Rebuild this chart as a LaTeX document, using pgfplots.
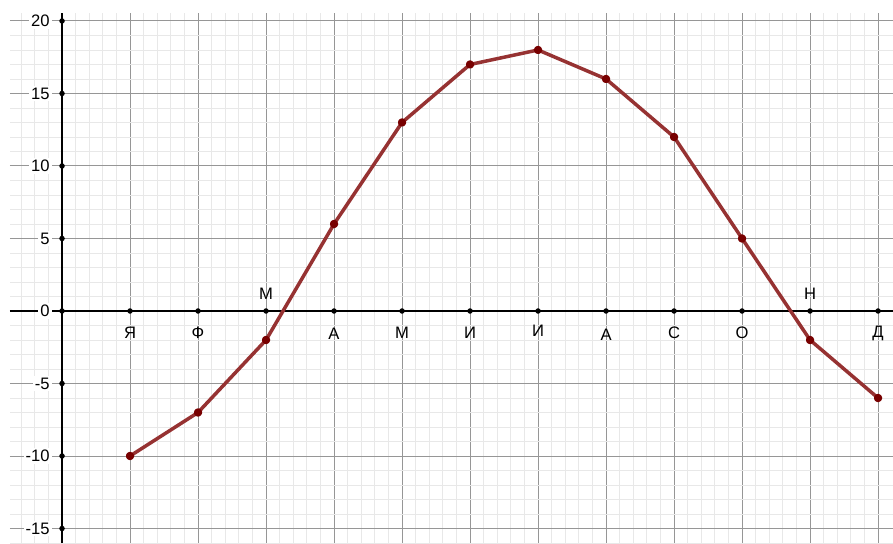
\documentclass[border=0pt]{standalone}
\usepackage{fontspec}
\setmainfont{Liberation Sans}
\usepackage{pgfplots}
\pgfplotsset{compat=1.18}
\definecolor{gridmajor}{RGB}{150,150,150}
\definecolor{gridminor}{RGB}{232,232,232}
\definecolor{curve}{RGB}{150,50,50}
\definecolor{curvedot}{RGB}{120,0,0}

\begin{document}
\begin{tikzpicture}
\begin{axis}[
    scale only axis,
    width=441.5pt, height=265pt,
    xmin=-0.765, xmax=12.22,
    ymin=-16, ymax=20.55,
    axis lines=middle,
    axis line style={-, black, line width=1.3pt},
    xtick={-1,0,...,12},
    xticklabels={},
    ytick={-20,-15,...,25},
    minor x tick num=4,
    minor y tick num=4,
    major tick length=0pt,
    minor tick length=0pt,
    grid=both,
    major grid style={gridmajor, line width=0.5pt},
    minor grid style={gridminor, line width=0.4pt},
    hide obscured y ticks=false,
    hide obscured x ticks=false,
    /pgf/number format/assume math mode=true,
    yticklabel style={font=\fontsize{8.3}{9}\selectfont, fill=white, inner sep=1pt, anchor=east, xshift=-5pt},
    clip=false,
]
  % curve
  \addplot[curve, line width=1.75pt, line join=round,
           mark=*, mark size=1.2pt, mark options={fill=curvedot, draw=curvedot}]
    coordinates {
      (1,-10)(2,-7)(3,-2)(4,6)(5,13)(6,17)
      (7,18)(8,16)(9,12)(10,5)(11,-2)(12,-6)
    };
  % dots on the axes
  \addplot[only marks, mark=*, mark size=1.15pt, black] coordinates {
      (0,0)(1,0)(2,0)(3,0)(4,0)(5,0)(6,0)(7,0)(8,0)(9,0)(10,0)(11,0)(12,0)
      (0,-15)(0,-10)(0,-5)(0,5)(0,10)(0,15)(0,20)
    };
  % month names
  \begin{scope}[every node/.style={font=\fontsize{8.3}{9}\selectfont, inner sep=0pt}]
    \node at (axis cs:1,0)  [yshift=-11pt] {Я};
    \node at (axis cs:2,0)  [yshift=-11pt] {Ф};
    \node at (axis cs:3,0)  [yshift=8.5pt] {М};
    \node at (axis cs:4,0)  [yshift=-11.5pt] {А};
    \node at (axis cs:5,0)  [yshift=-11pt] {М};
    \node at (axis cs:6,0)  [yshift=-11pt] {И};
    \node at (axis cs:7,0)  [yshift=-10pt] {И};
    \node at (axis cs:8,0)  [yshift=-12pt] {А};
    \node at (axis cs:9,0)  [yshift=-11pt] {С};
    \node at (axis cs:10,0) [yshift=-11pt] {О};
    \node at (axis cs:11,0) [yshift=8.5pt] {Н};
    \node at (axis cs:12,0) [yshift=-11pt] {Д};
  \end{scope}
\end{axis}
\pgfresetboundingbox
\path (current axis.south west) ++(-5pt,0pt) rectangle ([yshift=6.5pt]current axis.north east);
\end{tikzpicture}
\end{document}
